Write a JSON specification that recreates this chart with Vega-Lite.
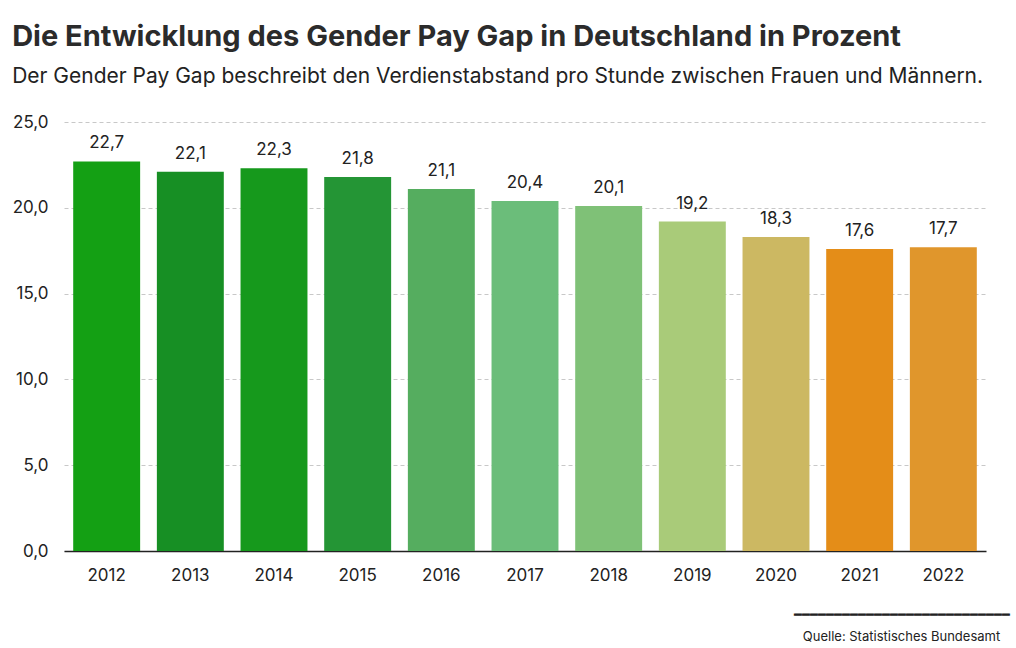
{
  "$schema": "https://vega.github.io/schema/vega-lite/v6.json",
  "width": 922,
  "height": 429,
  "padding": {"left": 12, "top": 23, "right": 6, "bottom": 4},
  "background": "white",
  "title": {
    "text": "Die Entwicklung des Gender Pay Gap in Deutschland in Prozent",
    "subtitle": "Der Gender Pay Gap beschreibt den Verdienstabstand pro Stunde zwischen Frauen und Männern.",
    "anchor": "start",
    "frame": "bounds",
    "font": "Inter",
    "fontSize": 29,
    "fontWeight": "bold",
    "color": "#2b2b2b",
    "subtitleFont": "Inter",
    "subtitleFontSize": 21,
    "subtitleColor": "#222222",
    "subtitlePadding": 14,
    "offset": 26
  },
  "data": {
    "values": [
      {"jahr": "2012", "wert": 22.7},
      {"jahr": "2013", "wert": 22.1},
      {"jahr": "2014", "wert": 22.3},
      {"jahr": "2015", "wert": 21.8},
      {"jahr": "2016", "wert": 21.1},
      {"jahr": "2017", "wert": 20.4},
      {"jahr": "2018", "wert": 20.1},
      {"jahr": "2019", "wert": 19.2},
      {"jahr": "2020", "wert": 18.3},
      {"jahr": "2021", "wert": 17.6},
      {"jahr": "2022", "wert": 17.7}
    ]
  },
  "encoding": {
    "x": {
      "field": "jahr",
      "type": "ordinal",
      "scale": {"paddingInner": 0.2, "paddingOuter": 0.11},
      "axis": {
        "title": ["━━━━━━━━━━━━━━━━━━━━━━━━━━━", "Quelle: Statistisches Bundesamt"],
        "titleFont": "Inter",
        "titleFontSize": 13,
        "titleFontWeight": "normal",
        "titleColor": "#222222",
        "titleAlign": "center",
        "titleAnchor": null,
        "titleX": 837,
        "titleY": 70,
        "titleBaseline": "bottom",
        "titleLineHeight": 22,
        "labelAngle": 0,
        "labelFont": "Inter",
        "labelFontSize": 17,
        "labelColor": "#222222",
        "labelPadding": 16,
        "ticks": false,
        "domainColor": "#222222",
        "domainWidth": 1.5
      }
    },
    "y": {
      "field": "wert",
      "type": "quantitative",
      "scale": {"domain": [0, 25]},
      "axis": {
        "title": null,
        "values": [0, 5, 10, 15, 20, 25],
        "format": ".1f",
        "labelFont": "Inter",
        "labelFontSize": 17,
        "labelColor": "#222222",
        "labelPadding": 16,
        "ticks": false,
        "domain": false,
        "gridColor": "#c8c8c8",
        "gridDash": [4, 3],
        "gridWidth": 1
      }
    }
  },
  "layer": [
    {
      "mark": {"type": "bar"},
      "encoding": {
        "color": {
          "field": "jahr",
          "type": "ordinal",
          "legend": null,
          "scale": {
            "domain": ["2012", "2013", "2014", "2015", "2016", "2017", "2018", "2019", "2020", "2021", "2022"],
            "range": ["#14a014", "#178f24", "#16991c", "#249535", "#55ad5f", "#6bbd7a", "#7fc177", "#a9cb79", "#ccb862", "#e48d18", "#e0962c"]
          }
        }
      }
    },
    {
      "mark": {"type": "text", "dy": -18, "font": "Inter", "fontSize": 17, "color": "#222222"},
      "encoding": {
        "text": {"field": "wert", "type": "quantitative", "format": ".1f"}
      }
    }
  ],
  "config": {
    "locale": {
      "number": {"decimal": ",", "thousands": ".", "grouping": [3], "currency": ["", " €"]}
    },
    "view": {"stroke": null}
  }
}
